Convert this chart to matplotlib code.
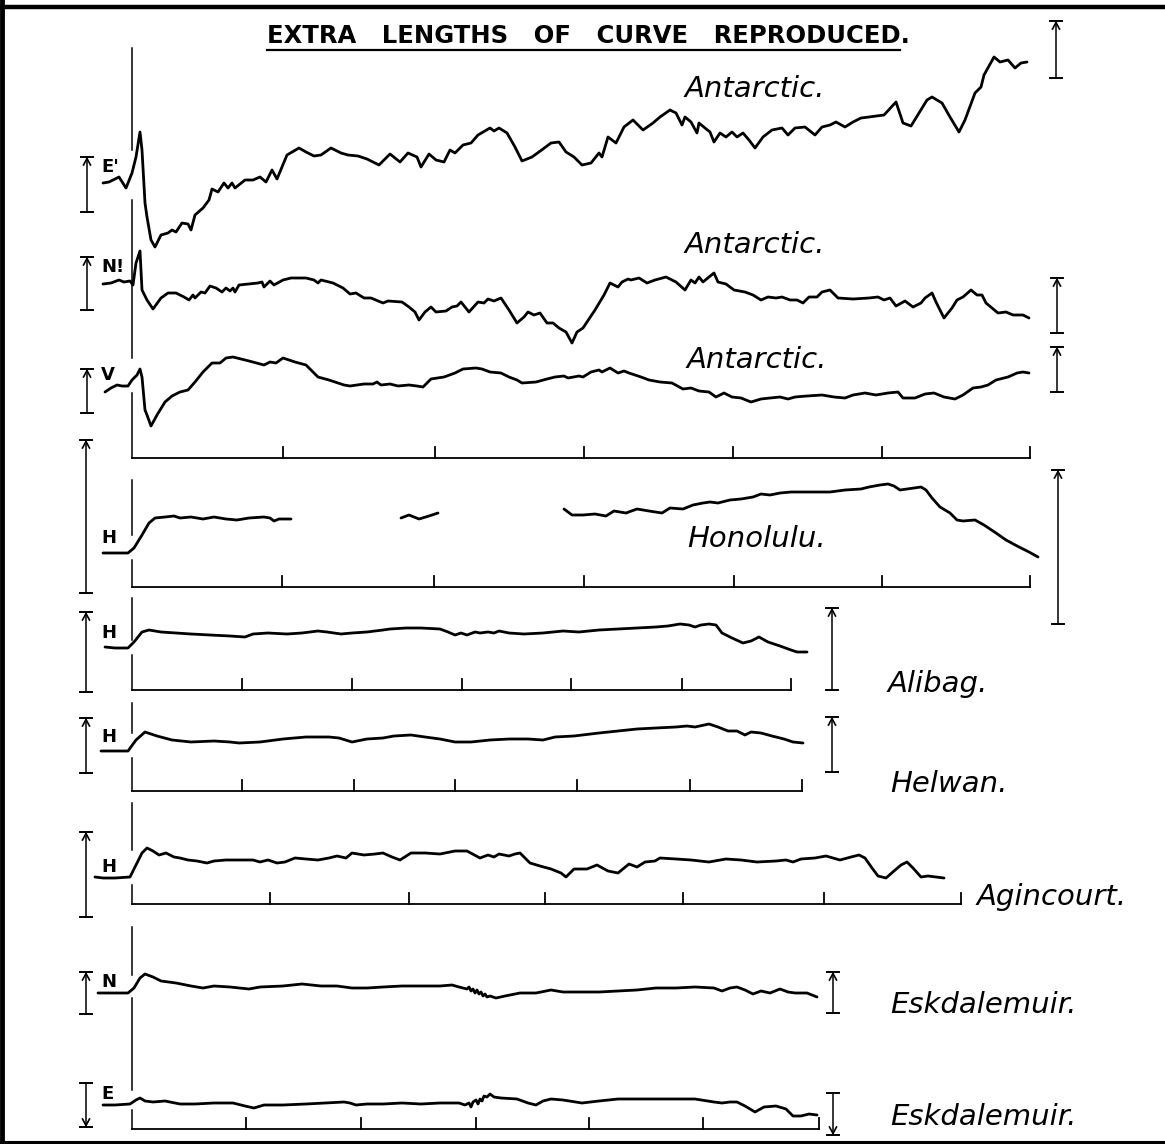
import numpy as np
import matplotlib.pyplot as plt

# ======================================================
# DATA
# t = time from the start mark, v = deflection (up = +)
# ======================================================
ant_e_t = [-29, -23, -13, -6, 0, 4, 8, 10, 13, 15, 19, 23, 29, 36, 40, 44, 50, 56, 59, 63,
           71, 77, 80, 86, 92, 96, 100, 103, 113, 121, 128, 134, 140, 145, 155, 167, 174, 182,
           189, 199, 209, 216, 226, 235, 247, 258, 268, 276, 285, 289, 297, 304, 312, 318, 323,
           331, 339, 346, 358, 362, 367, 375, 383, 390, 400, 411, 419, 427, 434, 442, 450, 459,
           467, 470, 476, 484, 492, 501, 511, 521, 528, 538, 544, 550, 553, 559, 565, 567, 573,
           578, 582, 588, 594, 600, 605, 611, 617, 623, 631, 640, 650, 656, 663, 673, 683, 690,
           698, 704, 713, 721, 729, 737, 752, 764, 771, 779, 787, 795, 800, 810, 818, 827, 833,
           843, 849, 852, 862, 868, 876, 883, 889, 895]
ant_e_v = [0, 1, 6, -5, 10, 26, 51, 33, -20, -34, -57, -64, -52, -50, -47, -49, -40, -41, -47, -32,
           -25, -17, -6, -9, 0, -5, 0, -5, 3, 3, 6, 1, 13, 4, 28, 35, 31, 27,
           28, 35, 30, 28, 27, 24, 18, 29, 21, 30, 26, 16, 29, 23, 21, 33, 30,
           38, 40, 48, 55, 52, 55, 50, 36, 22, 26, 34, 40, 41, 31, 26, 18, 20,
           30, 26, 46, 40, 56, 63, 53, 60, 66, 73, 70, 58, 66, 61, 50, 60, 55,
           51, 41, 50, 46, 51, 46, 50, 43, 35, 46, 53, 55, 48, 55, 56, 48, 56,
           58, 61, 56, 61, 65, 66, 68, 81, 60, 57, 70, 83, 86, 80, 66, 51, 63,
           90, 96, 108, 126, 121, 123, 115, 120, 121]

ant_n_t = [-29, -21, -13, -8, -2, 1, 4, 8, 10, 15, 21, 29, 36, 44, 52, 57, 61, 63, 69, 73,
           78, 84, 90, 94, 98, 101, 103, 107, 117, 126, 130, 132, 138, 142, 151, 159, 174, 182,
           186, 189, 201, 211, 218, 224, 232, 239, 251, 256, 270, 277, 283, 287, 293, 299, 304,
           314, 320, 325, 329, 337, 346, 352, 356, 362, 369, 377, 385, 392, 396, 402, 408, 415,
           421, 427, 434, 440, 445, 451, 463, 472, 478, 482, 486, 490, 496, 499, 507, 515, 523,
           534, 544, 553, 559, 563, 567, 571, 577, 582, 586, 594, 602, 613, 621, 629, 636, 644,
           650, 658, 665, 671, 677, 685, 690, 698, 706, 721, 737, 746, 752, 758, 764, 773, 781,
           789, 793, 800, 804, 812, 820, 825, 831, 839, 845, 850, 854, 866, 874, 881, 891, 897]
ant_n_v = [-1, 0, 3, 1, 2, -2, 20, 32, -7, -17, -26, -15, -10, -10, -14, -17, -12, -15, -9, -10,
           -3, -5, -9, -5, -8, -5, -9, -2, -1, 0, 1, -4, 2, -2, 3, 5, 5, 3,
           0, 3, 0, -5, -11, -10, -15, -15, -20, -18, -19, -24, -29, -37, -29, -24, -29,
           -28, -24, -23, -19, -29, -19, -20, -16, -18, -15, -27, -40, -34, -29, -32, -30, -40,
           -40, -45, -49, -60, -49, -45, -27, -12, 0, -2, -4, 1, 4, 3, 5, 0, 3,
           6, 1, -7, 3, 0, 6, 1, 6, 10, 1, -1, -7, -9, -12, -17, -14, -15,
           -14, -17, -17, -20, -14, -14, -9, -7, -15, -16, -15, -14, -17, -15, -23, -18, -24,
           -20, -15, -10, -19, -35, -25, -17, -14, -7, -12, -12, -20, -30, -29, -32, -32, -35]

ant_v_t = [-27, -21, -15, -10, -4, 0, 5, 8, 10, 13, 15, 19, 25, 33, 40, 48, 56, 63, 71, 80,
           88, 94, 101, 117, 132, 138, 144, 151, 163, 174, 186, 197, 212, 218, 232, 241, 245,
           249, 258, 266, 277, 285, 291, 299, 312, 323, 331, 344, 350, 358, 369, 377, 385, 390,
           404, 415, 423, 432, 436, 447, 451, 459, 467, 470, 478, 486, 492, 497, 509, 517, 528,
           540, 551, 559, 567, 577, 584, 592, 600, 609, 619, 629, 638, 648, 656, 663, 675, 690,
           702, 713, 721, 733, 744, 756, 766, 771, 783, 793, 802, 812, 823, 831, 841, 849, 856,
           864, 876, 885, 891, 897]
ant_v_v = [-6, -2, 1, 0, 0, 6, 11, 17, 9, -24, -29, -40, -29, -16, -10, -6, -4, 4, 14, 23,
           23, 28, 29, 25, 21, 24, 23, 28, 24, 21, 9, 6, 1, 0, 2, 2, 4,
           1, 2, 0, 1, 0, -1, 7, 9, 13, 17, 18, 17, 14, 13, 9, 6, 3,
           4, 7, 9, 10, 8, 10, 9, 14, 16, 14, 18, 13, 15, 13, 9, 6, 4,
           3, -3, -2, -5, -6, -11, -7, -11, -12, -16, -13, -12, -11, -13, -11, -10, -9,
           -11, -12, -9, -7, -9, -7, -6, -12, -12, -8, -7, -11, -13, -9, -2, -1, 1,
           6, 9, 13, 14, 13]

# Honolulu record has two gaps in the trace
hono_t = [-29, -17, -4, 2, 10, 17, 23, 33, 42, 48, 59, 71, 82, 94, 105, 117, 132, 138, 142, 147, 159,
          np.nan, 269, 277, 287, 297, 306,
          np.nan, 432, 440, 451, 463, 474, 482, 494, 505, 517, 530, 538, 551, 561, 571, 578, 586,
          598, 609, 621, 629, 638, 648, 659, 667, 683, 698, 713, 729, 737, 748, 756, 762, 768,
          775, 789, 794, 800, 808, 818, 825, 831, 843, 852, 864, 874, 887, 897, 906]
hono_v = [0, 0, 0, 5, 18, 30, 35, 36, 37, 35, 36, 34, 36, 34, 33, 35, 36, 35, 32, 34, 34,
          np.nan, 35, 38, 34, 37, 40,
          np.nan, 44, 38, 38, 39, 37, 42, 40, 44, 42, 40, 45, 44, 48, 50, 51, 50,
          53, 54, 56, 59, 58, 60, 61, 61, 61, 61, 63, 64, 66, 68, 69, 67, 63,
          64, 66, 63, 55, 46, 40, 33, 32, 33, 28, 20, 13, 6, 1, -4]

alib_t = [-27, -17, -4, 2, 10, 17, 29, 44, 59, 78, 98, 113, 121, 136, 155, 170, 186, 195, 209, 220,
          235, 251, 258, 274, 289, 308, 316, 323, 329, 335, 343, 348, 356, 362, 367, 377, 392,
          411, 431, 447, 467, 486, 505, 524, 536, 548, 557, 563, 569, 577, 584, 590, 600, 611,
          619, 627, 636, 648, 659, 665, 675]
alib_v = [1, 0, 0, 6, 16, 18, 16, 15, 14, 13, 12, 11, 14, 15, 14, 15, 17, 16, 14, 15,
          16, 18, 19, 20, 20, 19, 16, 13, 15, 13, 16, 15, 16, 15, 17, 15, 14,
          15, 17, 16, 18, 19, 20, 21, 22, 24, 23, 21, 23, 24, 23, 15, 10, 5,
          7, 11, 6, 2, -2, -4, -4]

helw_t = [-31, -17, -4, 4, 13, 25, 40, 59, 82, 98, 107, 128, 151, 174, 197, 207, 220, 235, 251, 262,
          279, 293, 308, 323, 339, 358, 377, 396, 411, 423, 442, 467, 486, 505, 524, 544, 555,
          563, 577, 586, 596, 605, 613, 619, 629, 640, 652, 661, 671]
helw_v = [0, 0, 0, 11, 19, 15, 11, 9, 10, 9, 8, 9, 12, 14, 14, 13, 9, 12, 13, 15,
          16, 14, 12, 9, 9, 11, 12, 12, 11, 14, 15, 18, 20, 22, 23, 24, 25,
          24, 27, 24, 20, 20, 16, 19, 18, 15, 12, 9, 8]

agin_t = [-37, -29, -17, -2, 4, 10, 15, 21, 27, 34, 42, 48, 56, 65, 75, 82, 94, 105, 121, 128,
          136, 145, 153, 163, 174, 186, 197, 205, 214, 220, 232, 243, 251, 260, 268, 279, 293,
          308, 323, 335, 348, 356, 362, 367, 377, 383, 388, 398, 408, 419, 429, 434, 442, 455,
          465, 476, 486, 497, 505, 513, 523, 528, 544, 559, 577, 594, 609, 625, 644, 654, 661,
          669, 683, 694, 708, 719, 727, 733, 740, 746, 754, 762, 769, 775, 781, 789, 796, 804, 812]
agin_v = [1, 0, 0, 1, 13, 25, 30, 27, 23, 25, 21, 20, 18, 17, 15, 17, 18, 18, 18, 16,
          18, 15, 16, 20, 19, 18, 20, 22, 20, 25, 23, 24, 25, 21, 18, 25, 25,
          24, 27, 27, 20, 23, 21, 24, 22, 24, 25, 15, 12, 9, 5, 1, 9, 9,
          13, 7, 5, 14, 11, 16, 17, 20, 19, 18, 16, 19, 18, 16, 17, 18, 16,
          19, 20, 22, 18, 21, 23, 20, 10, 2, 0, 7, 13, 16, 10, 1, 2, 1, 0]

eskn_t = [-34, -17, -4, 2, 8, 13, 21, 29, 44, 59, 71, 82, 98, 117, 128, 151, 170, 189, 205, 220,
          235, 251, 270, 289, 308, 320, 327, 335, 337, 339, 341, 343, 345, 347, 349, 351, 353,
          355, 358, 364, 373, 388, 404, 419, 431, 450, 467, 486, 505, 524, 544, 563, 582, 590,
          598, 605, 613, 621, 629, 638, 648, 656, 663, 675, 685]
eskn_v = [0, 0, 0, 5, 15, 19, 16, 12, 10, 7, 5, 7, 6, 4, 6, 7, 9, 7, 7, 5,
          5, 6, 7, 7, 7, 8, 6, 4, 6, 2, 4, 0, 3, -1, 1, -3, -1,
          -4, -3, -5, -3, 0, 0, 3, 1, 1, 1, 2, 3, 5, 5, 6, 5, 2,
          5, 6, 3, -1, 2, 0, 4, 1, 0, 0, -4]

eske_t = [-29, -17, -2, 4, 8, 13, 21, 33, 48, 63, 82, 101, 113, 122, 132, 151, 174, 193, 212, 218,
          224, 235, 251, 270, 289, 308, 327, 333, 337, 339, 341, 344, 346, 348, 350, 352, 355,
          358, 362, 369, 385, 396, 404, 411, 419, 431, 450, 467, 486, 505, 524, 544, 563, 582,
          590, 598, 605, 613, 623, 632, 644, 654, 661, 669, 677, 685]
eske_v = [0, 0, 1, 5, 7, 4, 3, 4, 1, 1, 2, 2, -1, -3, 0, 0, 1, 2, 3, 2,
          0, 1, 1, 2, 1, 2, 2, 0, 2, -2, 3, 5, 1, 6, 4, 9, 8,
          11, 8, 7, 6, 2, 0, 4, 6, 5, 2, 4, 6, 6, 6, 6, 6, 3,
          2, 3, 3, -1, -7, -2, -1, -4, -11, -11, -9, -10]

# hour marks on the time lines (last one closes the line)
ticks_ant = [151, 303, 452, 601, 750, 898]
ticks_hono = [150, 302, 452, 602, 750, 898]
ticks_alib = [110, 220, 330, 439, 550, 659]
ticks_helw = [110, 222, 323, 445, 558, 670]
ticks_agin = [138, 277, 413, 551, 692, 829]
ticks_esk = [114, 229, 344, 457, 571, 687]

# ======================================================
# FIGURE (axes in pixel units of the plate)
# ======================================================
W, H = 1165, 1144
fig = plt.figure(figsize=(W / 100, H / 100), dpi=100)
ax = fig.add_axes([0, 0, 1, 1])
ax.set_xlim(0, W)
ax.set_ylim(H, 0)
ax.axis("off")

t0 = 132          # start mark of every record
TRACE_LW = 2.0
THIN_LW = 1.1


def trace(t, v, base):
    ax.plot(t0 + np.asarray(t, float), base - np.asarray(v, float),
            color="k", lw=TRACE_LW, solid_joinstyle="round", solid_capstyle="round")


def scale_bar(x, top, bot, arrow="top"):
    ax.plot([x, x], [top, bot], color="k", lw=THIN_LW)
    for yy in (top, bot):
        ax.plot([x - 6, x + 6], [yy, yy], color="k", lw=1.4)
    if arrow == "top":
        ax.plot([x - 3.5, x, x + 3.5], [top + 8, top + 1.5, top + 8], color="k", lw=1.2)
    else:
        ax.plot([x - 3.5, x, x + 3.5], [bot - 8, bot - 1.5, bot - 8], color="k", lw=1.2)


def time_line(y, ticks):
    ax.plot([t0, t0 + ticks[-1]], [y, y], color="k", lw=1.3)
    for tk in ticks:
        ax.plot([t0 + tk, t0 + tk], [y, y - 11], color="k", lw=1.3)


def start_mark(segments):
    for a, b in segments:
        ax.plot([t0, t0], [a, b], color="k", lw=THIN_LW)


def comp_label(s, y):
    ax.text(101, y, s, fontsize=13, fontweight="bold", ha="left", va="baseline")


def station(s, x, y):
    ax.text(x, y, s, fontsize=21, style="italic", family="DejaVu Sans",
            ha="left", va="baseline")


# frame
ax.plot([0, W], [7, 7], color="k", lw=3.2)
ax.plot([2, 2], [0, H], color="k", lw=3.5)
ax.plot([0, W], [1142, 1142], color="k", lw=2.2)

# title
title = ax.text(588, 43, "EXTRA   LENGTHS   OF   CURVE   REPRODUCED.",
                fontsize=17.5, fontweight="bold", ha="center", va="baseline")
fig.canvas.draw()
bb = title.get_window_extent().transformed(ax.transData.inverted())
ax.plot([bb.x0, bb.x1 - 9], [50, 50], color="k", lw=1.6)

# ---- Antarctic E', N', V ----
start_mark([(48, 150), (200, 358), (393, 458)])
trace(ant_e_t, ant_e_v, 183)
trace(ant_n_t, ant_n_v, 283)
trace(ant_v_t, ant_v_v, 386)
time_line(458, ticks_ant)
comp_label("E'", 172)
comp_label("N!", 272)
comp_label("V", 380)
scale_bar(87, 157, 212)
scale_bar(87, 257, 310)
scale_bar(87, 369, 413)
scale_bar(1056, 21, 78)
scale_bar(1057, 278, 333)
scale_bar(1057, 347, 392)
station("Antarctic.", 685, 97)
station("Antarctic.", 685, 253)
station("Antarctic.", 687, 368)

# ---- Honolulu ----
start_mark([(480, 535), (560, 587)])
trace(hono_t, hono_v, 553)
time_line(587, ticks_hono)
comp_label("H", 543)
scale_bar(86, 440, 593)
scale_bar(1058, 470, 624)
station("Honolulu.", 687, 547)

# ---- Alibag ----
start_mark([(598, 640), (655, 690)])
trace(alib_t, alib_v, 648)
time_line(690, ticks_alib)
comp_label("H", 638)
scale_bar(86, 612, 692)
scale_bar(832, 608, 690)
station("Alibag.", 888, 692)

# ---- Helwan ----
start_mark([(703, 733), (758, 791)])
trace(helw_t, helw_v, 751)
time_line(791, ticks_helw)
comp_label("H", 742)
scale_bar(86, 718, 773)
scale_bar(832, 717, 772)
station("Helwan.", 890, 792)

# ---- Agincourt ----
start_mark([(803, 850), (885, 904)])
trace(agin_t, agin_v, 878)
time_line(904, ticks_agin)
comp_label("H", 872)
scale_bar(86, 832, 917)
station("Agincourt.", 977, 905)

# ---- Eskdalemuir N, E ----
start_mark([(927, 975), (998, 1090), (1110, 1129)])
trace(eskn_t, eskn_v, 993)
trace(eske_t, eske_v, 1105)
time_line(1129, ticks_esk)
comp_label("N", 987)
comp_label("E", 1099)
scale_bar(86, 972, 1014)
scale_bar(86, 1083, 1127, arrow="bottom")
scale_bar(833, 972, 1013)
scale_bar(833, 1093, 1135, arrow="bottom")
station("Eskdalemuir.", 890, 1013)
station("Eskdalemuir.", 890, 1125)

fig.savefig("out.png", dpi=100, facecolor="white")
